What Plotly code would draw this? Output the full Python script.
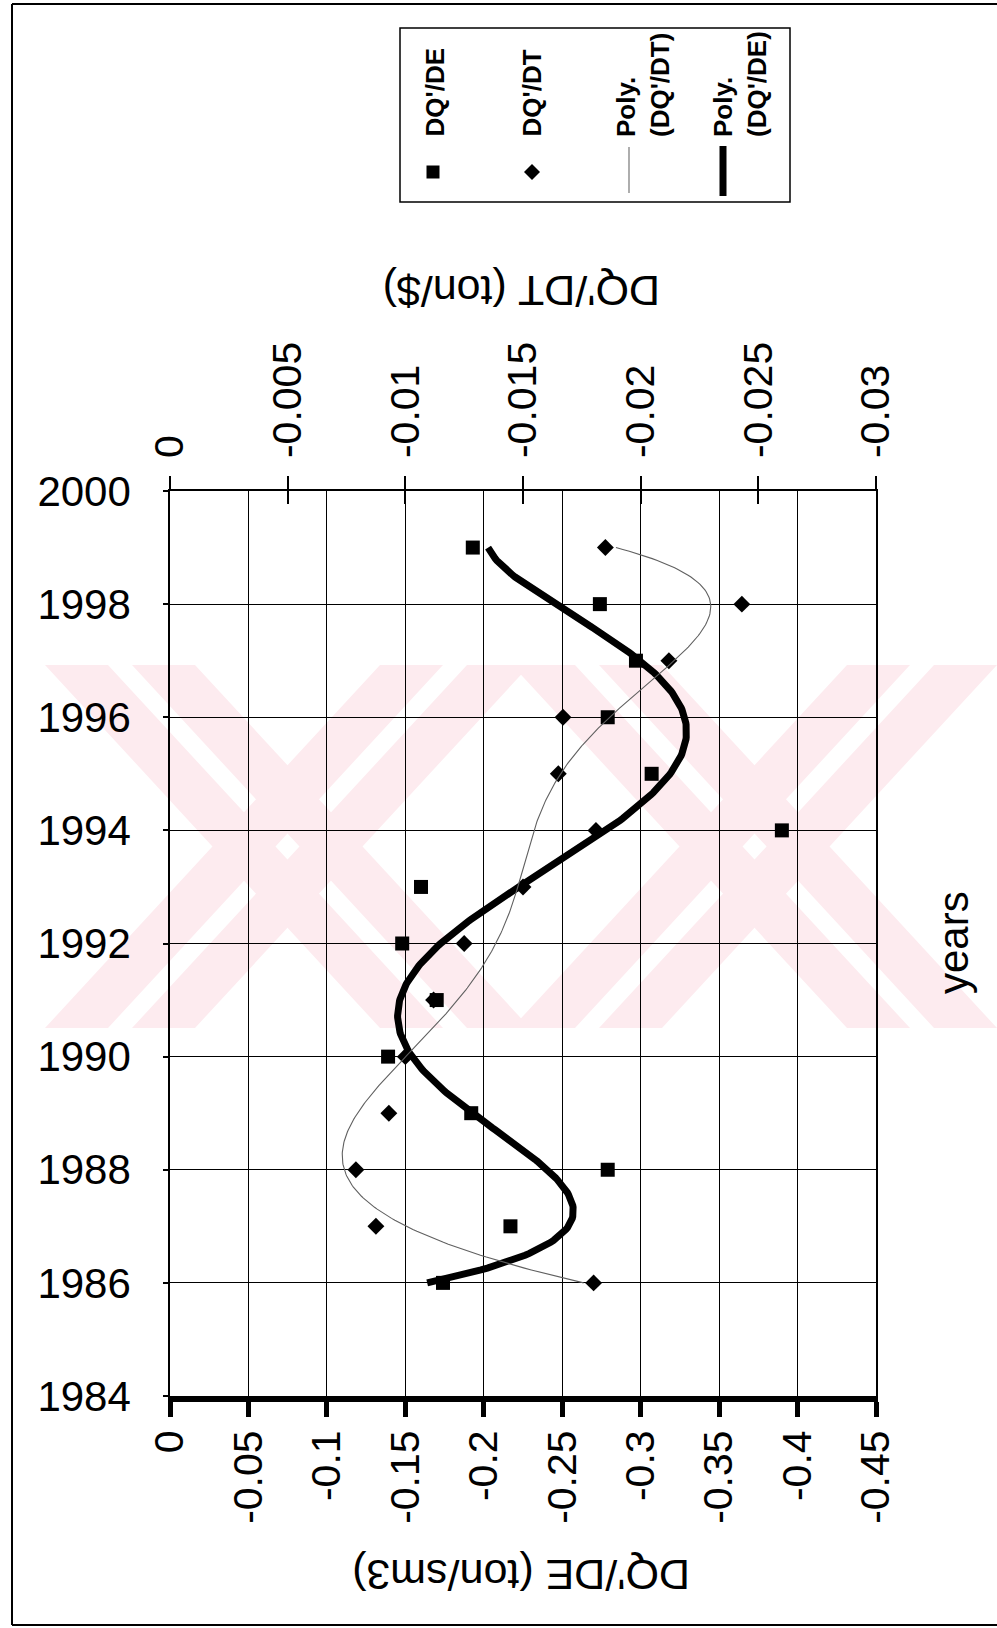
import numpy as np
import plotly.graph_objects as go

# ---- data -------------------------------------------------------------
years = [1986, 1987, 1988, 1989, 1990, 1991, 1992,
         1993, 1994, 1995, 1996, 1997, 1998, 1999]

# DQ'/DE (ton/sm3)
dq_de = [-0.174, -0.217, -0.279, -0.192, -0.139, -0.170, -0.148,
         -0.160, -0.390, -0.307, -0.279, -0.297, -0.274, -0.193]

# DQ'/DT (ton/$)
dq_dt = [-0.0180, -0.00875, -0.0079, -0.0093, -0.0100, -0.0112, -0.0125,
         -0.0150, -0.0181, -0.0165, -0.0167, -0.0212, -0.0243, -0.0185]

year_ticks = [1984, 1986, 1988, 1990, 1992, 1994, 1996, 1998, 2000]
de_ticks = [0, -0.05, -0.1, -0.15, -0.2, -0.25, -0.3, -0.35, -0.4, -0.45]
de_tick_text = ["0", "-0.05", "-0.1", "-0.15", "-0.2", "-0.25",
                "-0.3", "-0.35", "-0.4", "-0.45"]
dt_ticks = [0, -0.005, -0.01, -0.015, -0.02, -0.025, -0.03]
dt_tick_text = ["0", "-0.005", "-0.01", "-0.015", "-0.02", "-0.025", "-0.03"]

POLY_ORDER = 6

# ---- page geometry ----------------------------------------------------
W, H = 997, 1628
L, R, T, B = 170, 121, 491, 232
PW, PH = W - L - R, H - T - B


def px(x):
    """page pixel x -> paper x"""
    return (x - L) / PW


def py(y):
    """page pixel y (from top) -> paper y"""
    return (H - B - y) / PH


FONT = 'Arial, "Liberation Sans", sans-serif'

# ---- polynomial trendlines -------------------------------------------
yr = np.array(years, dtype=float)
t = yr - yr[0]
yy = np.linspace(yr[0], yr[-1], 400)
de_fit = np.polyval(np.polyfit(t, dq_de, POLY_ORDER), yy - yr[0])
dt_fit = np.polyval(np.polyfit(t, dq_dt, POLY_ORDER), yy - yr[0])

fig = go.Figure()

fig.add_trace(go.Scatter(
    x=dq_de, y=years, mode="markers", name="DQ'/DE",
    marker=dict(symbol="square", size=14, color="black"),
    xaxis="x", yaxis="y"))
fig.add_trace(go.Scatter(
    x=dq_dt, y=years, mode="markers", name="DQ'/DT",
    marker=dict(symbol="diamond", size=13, color="black"),
    xaxis="x2", yaxis="y"))
fig.add_trace(go.Scatter(
    x=dt_fit, y=yy, mode="lines", name="Poly. (DQ'/DT)",
    line=dict(color="#606060", width=1.1),
    xaxis="x2", yaxis="y"))
fig.add_trace(go.Scatter(
    x=de_fit, y=yy, mode="lines", name="Poly. (DQ'/DE)",
    line=dict(color="black", width=7),
    xaxis="x", yaxis="y"))
# carrier for the inner half of the top tick marks
fig.add_trace(go.Scatter(x=[None], y=[None], xaxis="x3", yaxis="y",
                         showlegend=False, hoverinfo="skip"))

# ---- axes -------------------------------------------------------------
fig.update_layout(
    width=W, height=H,
    margin=dict(l=L, r=R, t=T, b=B, pad=0),
    paper_bgcolor="white",
    plot_bgcolor="rgba(0,0,0,0)",
    showlegend=False,
    font=dict(family=FONT, color="black", size=41),
    xaxis=dict(
        range=[0, -0.45], tickvals=de_ticks, ticktext=de_tick_text,
        tickangle=-90, tickfont=dict(size=41),
        showgrid=True, gridcolor="black", gridwidth=1.3,
        showline=True, linecolor="black", linewidth=6,
        ticks="outside", ticklen=15, tickwidth=5, tickcolor="black",
        ticklabelstandoff=-3, zeroline=False, automargin=False),
    xaxis2=dict(
        overlaying="x", side="top", anchor="y",
        range=[0, -0.03], tickvals=dt_ticks, ticktext=dt_tick_text,
        tickangle=-90, tickfont=dict(size=41),
        showgrid=False, showline=True, linecolor="black", linewidth=1.5,
        ticks="outside", ticklen=13, tickwidth=1.5, tickcolor="black",
        ticklabelstandoff=10, zeroline=False, automargin=False),
    xaxis3=dict(
        overlaying="x", side="top", anchor="y",
        range=[0, -0.03], tickvals=dt_ticks, showticklabels=False,
        showgrid=False, showline=False, zeroline=False,
        ticks="inside", ticklen=13, tickwidth=1.5, tickcolor="black"),
    yaxis=dict(
        range=[1984, 2000], tickvals=year_ticks,
        tickfont=dict(size=42),
        showgrid=True, gridcolor="black", gridwidth=1.3,
        showline=True, mirror=True, linecolor="black", linewidth=1.5,
        ticks="outside", ticklen=5, tickwidth=1.5, tickcolor="black",
        ticklabelstandoff=24, zeroline=False, automargin=False),
)

# ---- shapes: watermark, page frame, legend ---------------------------
shapes = []

WM = "#fdebef"
y_top, y_bot = 665, 1028


def band(x_top, x_bot, width):
    return dict(
        type="path", xref="paper", yref="paper", layer="below",
        fillcolor=WM, line=dict(width=0),
        path=(f"M {px(x_top)} {py(y_top)} L {px(x_top + width)} {py(y_top)} "
              f"L {px(x_bot + width)} {py(y_bot)} L {px(x_bot)} {py(y_bot)} Z"))


for a, b in [(45, 530), (512, 997)]:
    w = 150
    s1, gap = 0.42 * w, 0.16 * w
    # "\" band, split by a white stripe
    shapes.append(band(a, b - w, s1))
    shapes.append(band(a + s1 + gap, b - w + s1 + gap, s1))
    # "/" band, split by a white stripe
    shapes.append(band(b - w, a, s1))
    shapes.append(band(b - w + s1 + gap, a + s1 + gap, s1))

frame = dict(color="black", width=2)
shapes += [
    dict(type="line", xref="paper", yref="paper",
         x0=px(12), x1=px(997), y0=py(4), y1=py(4), line=frame),
    dict(type="line", xref="paper", yref="paper",
         x0=px(12), x1=px(12), y0=py(4), y1=py(1625), line=frame),
    dict(type="line", xref="paper", yref="paper",
         x0=px(12), x1=px(997), y0=py(1625), y1=py(1625), line=frame),
]

# legend box and swatches
shapes += [
    dict(type="rect", xref="paper", yref="paper",
         x0=px(400), x1=px(790), y0=py(28), y1=py(202),
         line=dict(color="black", width=1.5), fillcolor="white"),
    dict(type="rect", xref="paper", yref="paper",
         x0=px(426.5), x1=px(439.5), y0=py(165.5), y1=py(178.5),
         line=dict(width=0), fillcolor="black"),
    dict(type="path", xref="paper", yref="paper",
         path=(f"M {px(532)} {py(164)} L {px(540)} {py(172)} "
               f"L {px(532)} {py(180)} L {px(524)} {py(172)} Z"),
         line=dict(width=0), fillcolor="black"),
    dict(type="line", xref="paper", yref="paper",
         x0=px(629), x1=px(629), y0=py(147), y1=py(193),
         line=dict(color="#777777", width=1.2)),
    dict(type="line", xref="paper", yref="paper",
         x0=px(723), x1=px(723), y0=py(146), y1=py(196),
         line=dict(color="black", width=7)),
]

fig.update_layout(shapes=shapes)

# ---- text -------------------------------------------------------------
ann = [
    dict(text="DQ'/DE (ton/sm3)", x=px(521), y=py(1575), textangle=180,
         font=dict(size=43)),
    dict(text="DQ'/DT (ton/$)", x=px(522), y=py(291), textangle=180,
         font=dict(size=43)),
    dict(text="years", x=px(953), y=py(943), textangle=-90,
         font=dict(size=42)),
]
leg_font = dict(size=26, family=FONT)
ann += [
    dict(text="<b>DQ'/DE</b>", x=px(434), y=py(139), textangle=-90,
         yanchor="bottom", font=leg_font),
    dict(text="<b>DQ'/DT</b>", x=px(531), y=py(139), textangle=-90,
         yanchor="bottom", font=leg_font),
    dict(text="<b>Poly.<br>(DQ'/DT)</b>", x=px(643), y=py(139),
         textangle=-90, yanchor="bottom", align="left", font=leg_font),
    dict(text="<b>Poly.<br>(DQ'/DE)</b>", x=px(740), y=py(139),
         textangle=-90, yanchor="bottom", align="left", font=leg_font),
]
for a in ann:
    a.setdefault("xanchor", "center")
    a.setdefault("yanchor", "middle")
    a.update(xref="paper", yref="paper", showarrow=False)
fig.update_layout(annotations=ann)

fig.write_html("out.html")
